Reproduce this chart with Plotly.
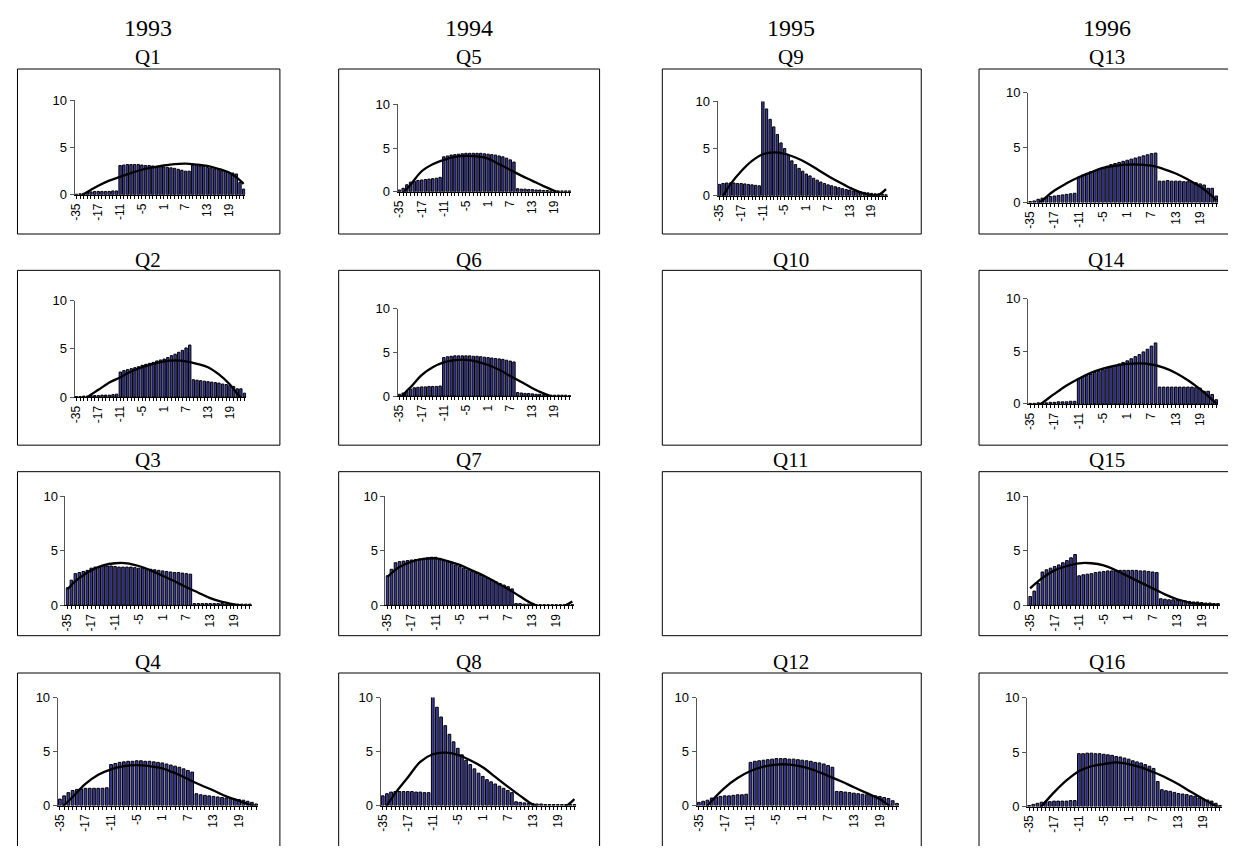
import plotly.graph_objects as go

# The page keeps the browser's 8px body margin, so the figure is 16px smaller
# than the window and all reference pixel positions are shifted by that margin.
PAGE_W, PAGE_H = 1236, 854
MARGIN = 8
W, H = PAGE_W - 2 * MARGIN, PAGE_H - 2 * MARGIN

# ---------------- data ----------------
categories = ["-35", "-32", "-29", "-26", "-23", "-20",
              "-17", "-16", "-15", "-14", "-13", "-12", "-11", "-10", "-9", "-8",
              "-7", "-6", "-5", "-4", "-3", "-2", "-1", "0", "1", "2", "3", "4",
              "5", "6", "7", "8", "9", "10", "11", "12", "13", "14", "15", "16",
              "17", "18", "19", "20", "21", "22", "23"]
tick_labels = ["-35", "-17", "-11", "-5", "1", "7", "13", "19"]
years = ["1993", "1994", "1995", "1996"]

line_x = ["-35", "-32", "-29", "-26", "-17", "-14", "-11", "-8", "-5", "-2",
          "1", "4", "7", "10", "13", "16", "19", "21", "23"]

Q1 = [0.05, 0.1, 0.15, 0.3, 0.3, 0.35, 0.35, 0.35, 0.35, 0.35, 0.4, 0.4,
      3.1, 3.15, 3.2, 3.2, 3.2, 3.2, 3.15, 3.1, 3.1, 3.05, 3.0, 3.0, 2.95, 2.9, 2.85, 2.8, 2.7, 2.6, 2.5, 2.5,
      3.15, 3.1, 3.05, 3.0, 2.9, 2.85, 2.75, 2.65, 2.55, 2.45, 2.35, 2.3, 2.2, 1.3, 0.6]
Q2 = [0.05, 0.05, 0.1, 0.1, 0.15, 0.15, 0.15, 0.2, 0.2, 0.2, 0.25, 0.3,
      2.6, 2.75, 2.85, 2.95, 3.05, 3.15, 3.3, 3.4, 3.5, 3.6, 3.75, 3.85, 3.95, 4.1, 4.3, 4.45, 4.65, 4.85, 5.1, 5.4,
      1.8, 1.75, 1.7, 1.65, 1.6, 1.55, 1.5, 1.45, 1.35, 1.3, 1.2, 1.1, 0.85, 0.85, 0.4]
Q3 = [1.6, 2.3, 2.9, 3.0, 3.1, 3.2, 3.4, 3.5, 3.55, 3.6, 3.6, 3.6,
      3.55, 3.5, 3.5, 3.5, 3.5, 3.45, 3.4, 3.4, 3.35, 3.3, 3.25, 3.2, 3.15, 3.1, 3.05, 3.0, 3.0, 2.95, 2.9, 2.85,
      0.15, 0.15, 0.15, 0.15, 0.15, 0.15, 0.15, 0.15, 0.1, 0.1, 0.1, 0.1, 0.1, 0.1, 0.1]
Q4 = [0.6, 0.9, 1.2, 1.4, 1.5, 1.55, 1.6, 1.6, 1.6, 1.6, 1.6, 1.65,
      3.8, 3.9, 4.0, 4.05, 4.1, 4.1, 4.15, 4.15, 4.1, 4.1, 4.05, 4.0, 3.95, 3.85, 3.75, 3.65, 3.55, 3.4, 3.25, 3.1,
      1.1, 1.0, 0.95, 0.9, 0.85, 0.8, 0.75, 0.7, 0.65, 0.6, 0.55, 0.5, 0.4, 0.3, 0.15]
Q5 = [0.2, 0.4, 0.8, 1.1, 1.2, 1.3, 1.35, 1.4, 1.45, 1.5, 1.55, 1.65,
      4.0, 4.1, 4.2, 4.25, 4.3, 4.35, 4.4, 4.4, 4.4, 4.4, 4.4, 4.35, 4.3, 4.25, 4.2, 4.1, 4.0, 3.85, 3.65, 3.4,
      0.35, 0.3, 0.3, 0.25, 0.25, 0.2, 0.2, 0.15, 0.15, 0.1, 0.1, 0.1, 0.1, 0.1, 0.1]
Q6 = [0.2, 0.35, 0.55, 0.8, 0.95, 1.0, 1.05, 1.05, 1.1, 1.1, 1.1, 1.15,
      4.4, 4.5, 4.55, 4.6, 4.6, 4.6, 4.6, 4.6, 4.55, 4.55, 4.5, 4.45, 4.4, 4.35, 4.3, 4.25, 4.2, 4.1, 4.0, 3.9,
      0.4, 0.35, 0.3, 0.3, 0.25, 0.2, 0.2, 0.15, 0.15, 0.1, 0.1, 0.1, 0.1, 0.1, 0.05]
Q7 = [2.7, 3.3, 3.9, 4.0, 4.05, 4.1, 4.15, 4.2, 4.25, 4.3, 4.35, 4.4,
      4.4, 4.3, 4.15, 4.0, 3.85, 3.7, 3.55, 3.4, 3.25, 3.1, 2.95, 2.8, 2.65, 2.5, 2.3, 2.15, 2.0, 1.85, 1.7, 1.5,
      0.15, 0.15, 0.1, 0.1, 0.1, 0.05, 0.05, 0.05, 0.05, 0.05, 0.05, 0.05, 0.05, 0.05, 0.05]
Q8 = [0.9, 1.1, 1.25, 1.3, 1.3, 1.3, 1.3, 1.3, 1.25, 1.25, 1.2, 1.2,
      10.1, 9.1, 8.2, 7.4, 6.6, 5.9, 5.3, 4.7, 4.2, 3.8, 3.4, 3.0, 2.7, 2.4, 2.2, 2.0, 1.8, 1.6, 1.4, 1.2,
      0.35, 0.3, 0.25, 0.2, 0.2, 0.15, 0.15, 0.1, 0.1, 0.1, 0.1, 0.1, 0.1, 0.1, 0.1]
Q9 = [1.2, 1.3, 1.35, 1.35, 1.35, 1.3, 1.3, 1.25, 1.2, 1.15, 1.1, 1.05,
      10.2, 9.2, 8.1, 7.3, 6.5, 5.6, 5.0, 4.3, 3.7, 3.3, 2.9, 2.6, 2.3, 2.1, 1.85, 1.65, 1.45, 1.3, 1.15, 1.05,
      0.95, 0.85, 0.75, 0.65, 0.6, 0.5, 0.45, 0.4, 0.35, 0.3, 0.25, 0.2, 0.2, 0.15, 0.1]
Q12 = [0.3, 0.4, 0.5, 0.7, 0.8, 0.85, 0.9, 0.9, 0.95, 1.0, 1.0, 1.05,
       4.0, 4.1, 4.15, 4.2, 4.25, 4.3, 4.35, 4.35, 4.35, 4.3, 4.3, 4.25, 4.2, 4.15, 4.1, 4.0, 3.95, 3.85, 3.7, 3.55,
       1.3, 1.3, 1.25, 1.2, 1.15, 1.1, 1.05, 1.0, 0.95, 0.9, 0.85, 0.75, 0.65, 0.45, 0.2]
Q13 = [0.1, 0.15, 0.3, 0.4, 0.5, 0.55, 0.6, 0.65, 0.7, 0.75, 0.8, 0.85,
       2.3, 2.5, 2.65, 2.8, 2.9, 3.0, 3.15, 3.3, 3.45, 3.55, 3.65, 3.75, 3.85, 3.95, 4.05, 4.15, 4.25, 4.35, 4.45, 4.5,
       1.95, 1.95, 2.0, 1.95, 1.95, 1.95, 1.9, 1.9, 1.85, 1.8, 1.7, 1.6, 1.3, 1.3, 0.6]
Q14 = [0.05, 0.05, 0.1, 0.1, 0.1, 0.15, 0.15, 0.2, 0.2, 0.2, 0.25, 0.25,
       2.4, 2.55, 2.7, 2.85, 3.0, 3.1, 3.25, 3.4, 3.5, 3.65, 3.8, 3.95, 4.1, 4.3, 4.5, 4.7, 4.95, 5.2, 5.5, 5.8,
       1.6, 1.6, 1.6, 1.6, 1.6, 1.6, 1.6, 1.6, 1.6, 1.55, 1.5, 1.2, 1.2, 0.9, 0.4]
Q15 = [0.8, 1.3, 2.0, 3.05, 3.25, 3.4, 3.55, 3.7, 3.9, 4.1, 4.35, 4.65,
       2.7, 2.8, 2.85, 2.9, 3.0, 3.05, 3.1, 3.15, 3.15, 3.2, 3.2, 3.2, 3.2, 3.2, 3.2, 3.15, 3.15, 3.1, 3.05, 3.0,
       0.6, 0.55, 0.5, 0.5, 0.45, 0.45, 0.4, 0.35, 0.3, 0.3, 0.25, 0.2, 0.2, 0.15, 0.15]
Q16 = [0.1, 0.2, 0.3, 0.4, 0.45, 0.45, 0.5, 0.5, 0.5, 0.5, 0.55, 0.55,
       4.85, 4.85, 4.9, 4.9, 4.85, 4.85, 4.8, 4.75, 4.7, 4.6, 4.55, 4.45, 4.35, 4.2, 4.1, 4.0, 3.85, 3.7, 3.5, 2.3,
       1.55, 1.45, 1.4, 1.3, 1.2, 1.15, 1.1, 1.0, 0.95, 0.8, 0.7, 0.6, 0.5, 0.3, 0.1]

# trend line values at line_x
L1 = [-0.5, -0.2, 0.05, 0.3, 0.95, 1.5, 1.9, 2.3, 2.65, 2.9, 3.1, 3.25, 3.3, 3.2, 3.05, 2.75, 2.35, 1.85, 1.15]
L2 = [-1.0, -0.6, -0.3, 0.0, 0.75, 1.5, 2.05, 2.65, 3.1, 3.45, 3.7, 3.8, 3.7, 3.45, 3.1, 2.35, 1.3, 0.35, -0.5]
L3 = [1.45, 1.85, 2.2, 2.5, 3.2, 3.65, 3.85, 3.85, 3.6, 3.2, 2.7, 2.2, 1.65, 1.15, 0.65, 0.3, 0.08, -0.05, -0.2]
L4 = [-0.3, 0.05, 0.4, 0.8, 2.0, 2.85, 3.35, 3.65, 3.75, 3.65, 3.45, 3.0, 2.45, 1.9, 1.4, 0.85, 0.45, 0.15, -0.1]
L5 = [-0.6, -0.1, 0.35, 0.8, 2.35, 3.15, 3.65, 4.0, 4.1, 4.05, 3.8, 3.15, 2.5, 1.85, 1.25, 0.65, 0.1, -0.25, -0.6]
L6 = [-0.3, 0.1, 0.6, 1.0, 2.4, 3.3, 3.85, 4.1, 4.15, 3.95, 3.55, 3.0, 2.3, 1.6, 0.9, 0.3, -0.2, -0.5, -0.8]
L7 = [2.6, 2.95, 3.25, 3.5, 4.0, 4.25, 4.3, 4.05, 3.7, 3.2, 2.7, 2.1, 1.5, 0.8, 0.15, -0.25, -0.2, -0.05, 0.35]
L8 = [-1.0, 0.0, 0.6, 1.15, 2.6, 4.05, 4.75, 4.9, 4.7, 4.2, 3.55, 2.65, 1.75, 0.9, 0.1, -0.35, -0.3, -0.05, 0.6]
L9 = [-0.8, 0.0, 0.6, 1.2, 2.6, 3.7, 4.4, 4.6, 4.45, 4.05, 3.5, 2.8, 2.1, 1.45, 0.85, 0.35, 0.05, 0.1, 0.7]
L12 = [-0.8, -0.4, 0.0, 0.45, 1.65, 2.55, 3.2, 3.6, 3.8, 3.8, 3.6, 3.25, 2.75, 2.25, 1.7, 1.15, 0.6, 0.05, -0.3]
L13 = [-0.6, -0.35, -0.1, 0.2, 1.1, 1.75, 2.3, 2.75, 3.15, 3.35, 3.45, 3.45, 3.35, 3.05, 2.65, 2.1, 1.45, 0.9, 0.2]
L14 = [-0.7, -0.4, -0.15, 0.1, 0.95, 1.75, 2.4, 2.95, 3.35, 3.65, 3.8, 3.85, 3.75, 3.45, 2.95, 2.25, 1.4, 0.75, 0.05]
L15 = [1.55, 1.9, 2.2, 2.5, 3.2, 3.6, 3.85, 3.85, 3.65, 3.2, 2.65, 2.1, 1.55, 1.0, 0.55, 0.25, 0.1, 0.05, 0.02]
L16 = [-1.1, -0.7, -0.3, 0.05, 1.3, 2.4, 3.25, 3.7, 3.9, 4.05, 3.9, 3.6, 3.15, 2.65, 2.05, 1.35, 0.7, 0.25, -0.15]

# stray mark printed inside the Q16 chart
q16_mark_text = "o"
q16_mark_x, q16_mark_y = "-4", 3.4

# ---------------- layout geometry (window pixels) ----------------
col_x0 = [12.5, 335, 660, 978]
col_x1 = [276, 597, 920, 1250]
row_y0 = [63, 268, 473, 678]
row_y1 = [231, 446, 640, 880]
col_center = [144, 466, 789, 1106]
year_y = 21
qtitle_y = [51, 257, 461, 667]

# name -> (column, row, plot left px, plot right px, y px of 10, y px of 0)
panel_geom = {
    "Q1": (0, 0, 69.9, 241.4, 95, 191),
    "Q2": (0, 1, 69.9, 242.3, 299, 397),
    "Q3": (0, 2, 60.7, 247.8, 498, 609),
    "Q4": (0, 3, 52.9, 254.3, 703, 813),
    "Q5": (1, 0, 394.2, 568.5, 99, 188),
    "Q6": (1, 1, 394.2, 568.5, 307, 396),
    "Q7": (1, 2, 382.0, 571.6, 498, 609),
    "Q8": (1, 3, 377.2, 573.8, 703, 813),
    "Q9": (2, 0, 715.5, 886.4, 96, 192),
    "Q10": (2, 1, None, None, None, None),
    "Q11": (2, 2, None, None, None, None),
    "Q12": (2, 3, 694.5, 897.8, 703, 813),
    "Q13": (3, 0, 1027.3, 1218.2, 87, 199),
    "Q14": (3, 1, 1027.3, 1218.2, 297, 404),
    "Q15": (3, 2, 1027.3, 1220.0, 498, 609),
    "Q16": (3, 3, 1026.2, 1222.0, 703, 814),
}

series = {
    "Q1": (Q1, L1), "Q2": (Q2, L2), "Q3": (Q3, L3), "Q4": (Q4, L4),
    "Q5": (Q5, L5), "Q6": (Q6, L6), "Q7": (Q7, L7), "Q8": (Q8, L8),
    "Q9": (Q9, L9), "Q12": (Q12, L12),
    "Q13": (Q13, L13), "Q14": (Q14, L14), "Q15": (Q15, L15), "Q16": (Q16, L16),
}

BAR_FILL = "#3c3ca0"
SANS = "Liberation Sans, Arial, sans-serif"
SERIF = "Liberation Serif, Times New Roman, serif"


def px_x(v):
    return (v - MARGIN) / W


def px_y(v):
    return 1 - (v - MARGIN) / H


fig = go.Figure()
layout = {}
shapes = []
annotations = []

ticktext = [c if c in tick_labels else "" for c in categories]

n = 0
for name, (c, r, left, right, y10, y0) in panel_geom.items():
    shapes.append(dict(type="rect", xref="paper", yref="paper",
                       x0=px_x(col_x0[c]), x1=px_x(col_x1[c]),
                       y0=px_y(row_y1[r]), y1=px_y(row_y0[r]),
                       line=dict(color="black", width=1), fillcolor="rgba(0,0,0,0)", layer="below"))
    annotations.append(dict(text=name, xref="paper", yref="paper",
                            x=px_x(col_center[c]), y=px_y(qtitle_y[r]),
                            xanchor="center", yanchor="middle", showarrow=False,
                            font=dict(family=SERIF, size=21, color="black")))
    if name not in series:
        continue
    n += 1
    bars, line = series[name]
    xa = "x" if n == 1 else f"x{n}"
    ya = "y" if n == 1 else f"y{n}"
    fig.add_trace(go.Bar(x=categories, y=bars, xaxis=xa, yaxis=ya,
                         marker=dict(color=BAR_FILL, line=dict(color="black", width=1)),
                         cliponaxis=False, showlegend=False, hoverinfo="skip"))
    fig.add_trace(go.Scatter(x=line_x, y=line, xaxis=xa, yaxis=ya, mode="lines",
                             line=dict(color="black", width=2.3, shape="spline", smoothing=1.0),
                             showlegend=False, hoverinfo="skip"))
    if name == "Q16":
        annotations.append(dict(text=q16_mark_text, xref=xa, yref=ya,
                                x=q16_mark_x, y=q16_mark_y, showarrow=False,
                                font=dict(family=SANS, size=11, color="#333355")))
    xkey = "xaxis" if n == 1 else f"xaxis{n}"
    ykey = "yaxis" if n == 1 else f"yaxis{n}"
    layout[xkey] = dict(domain=[px_x(left), px_x(right)], anchor=ya, type="category",
                        categoryorder="array", categoryarray=categories, range=[-0.5, 46.5],
                        tickmode="array", tickvals=categories, ticktext=ticktext, tickangle=-90,
                        ticks="outside", ticklen=3, tickcolor="black", tickwidth=1,
                        showline=True, linecolor="black", linewidth=1, showgrid=False,
                        zeroline=False, tickfont=dict(family=SANS, size=12, color="black"),
                        fixedrange=True)
    layout[ykey] = dict(domain=[px_y(y0), px_y(y10)], anchor=xa, range=[0, 10],
                        tickmode="array", tickvals=[0, 5, 10], ticks="outside", ticklen=4,
                        tickcolor="#555555", showline=True, linecolor="#555555", linewidth=1,
                        showgrid=False, zeroline=False,
                        tickfont=dict(family=SANS, size=13, color="black"), fixedrange=True)

for i, yr in enumerate(years):
    annotations.append(dict(text=yr, xref="paper", yref="paper",
                            x=px_x(col_center[i]), y=px_y(year_y),
                            xanchor="center", yanchor="middle", showarrow=False,
                            font=dict(family=SERIF, size=24, color="black")))

fig.update_layout(width=W, height=H, margin=dict(l=0, r=0, t=0, b=0),
                  paper_bgcolor="white", plot_bgcolor="rgba(0,0,0,0)",
                  bargap=0.35, shapes=shapes, annotations=annotations, showlegend=False,
                  **layout)

fig.write_html("out.html", config={"displayModeBar": False})
